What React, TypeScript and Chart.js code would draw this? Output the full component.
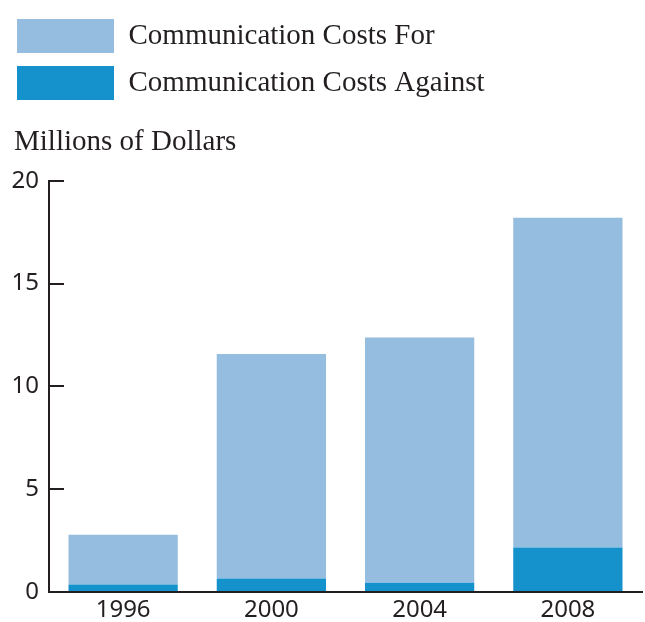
import React, { useEffect, useRef } from "react";
import { Chart, registerables } from "chart.js";

Chart.register(...registerables);

const years = ["1996", "2000", "2004", "2008"];
const costsAgainst = [0.36, 0.66, 0.45, 2.17];
const costsFor = [2.42, 10.91, 11.93, 16.03];
const seriesNames = ["Communication Costs For", "Communication Costs Against"];
const caption = "Millions of Dollars";
const yTicks = [0, 5, 10, 15, 20];

const LIGHT = "#94BDE0";
const DARK = "#1591CB";
const INK = "#231F20";
const SERIF = "'Liberation Serif', 'Times New Roman', serif";
const SANS = "'Noto Sans', sans-serif";

const shiftTitle = {
  id: "shiftTitle",
  afterLayout(chart: any) {
    const t = chart.titleBlock;
    if (t) {
      t.left += 10;
    }
  },
};

export default function App() {
  const ref = useRef<HTMLCanvasElement | null>(null);

  useEffect(() => {
    document.body.style.margin = "0";
    const canvas = ref.current;
    if (!canvas) return;
    const chart = new Chart(canvas, {
      type: "bar",
      data: {
        labels: years,
        datasets: [
          {
            label: seriesNames[1],
            data: costsAgainst,
            backgroundColor: DARK,
            borderWidth: 0,
            stack: "s",
          },
          {
            label: seriesNames[0],
            data: costsFor,
            backgroundColor: LIGHT,
            borderWidth: 0,
            stack: "s",
          },
        ],
      },
      options: {
        responsive: false,
        animation: false,
        layout: { padding: { left: 4, top: 6, right: 3, bottom: 0 } },
        datasets: {
          bar: { categoryPercentage: 1, barPercentage: 0.737 },
        },
        plugins: {
          tooltip: { enabled: false },
          legend: {
            position: "top",
            align: "start",
            weight: 3000,
            reverse: true,
            labels: {
              boxWidth: 97,
              boxHeight: 34,
              padding: 13,
              color: INK,
              font: { family: SERIF, size: 29 },
            },
          } as any,
          title: {
            display: true,
            text: caption,
            align: "start",
            color: INK,
            font: { family: SERIF, size: 29, weight: "normal" },
            padding: { top: 15, bottom: 21 },
          },
        },
        scales: {
          x: {
            stacked: true,
            grid: { display: false, drawTicks: false },
            border: { display: true, color: INK, width: 2 },
            afterFit: (scale: any) => {
              scale.height = 30;
            },
            ticks: {
              color: INK,
              padding: 4,
              font: { family: SANS, size: 24 },
            },
          },
          y: {
            stacked: true,
            min: 0,
            max: 20,
            afterBuildTicks: (scale: any) => {
              scale.ticks = yTicks.map((v) => ({ value: v }));
            },
            afterFit: (scale: any) => {
              scale.width = 45;
              scale.paddingTop = 14;
              scale.paddingBottom = 14;
            },
            grid: {
              drawOnChartArea: false,
              drawTicks: true,
              tickLength: -15,
              color: INK,
              lineWidth: 2,
            },
            border: { display: true, color: INK, width: 2 },
            ticks: {
              color: INK,
              padding: 25,
              font: { family: SANS, size: 24 },
            },
          },
        },
      },
      plugins: [shiftTitle],
    });
    return () => chart.destroy();
  }, []);

  return <canvas ref={ref} width={645} height={622} style={{ display: "block" }} />;
}
